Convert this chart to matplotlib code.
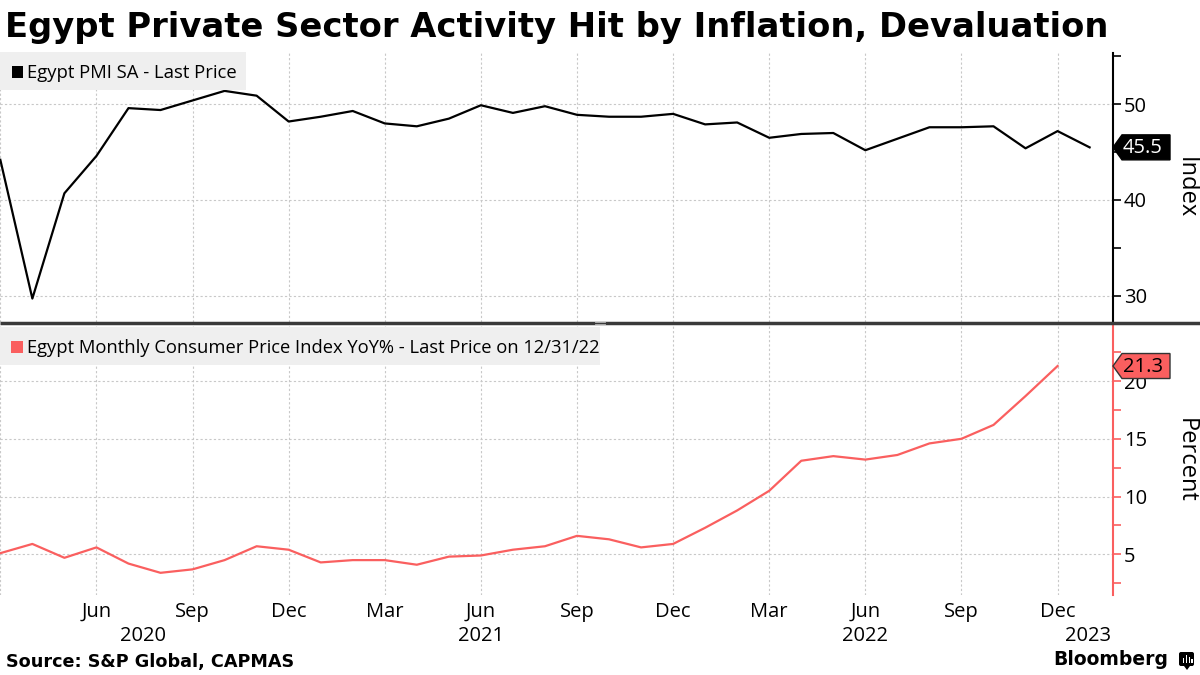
import matplotlib
matplotlib.use("Agg")
import matplotlib.pyplot as plt
import numpy as np
import pandas as pd
from matplotlib.patches import Rectangle, Polygon, FancyBboxPatch
from matplotlib.ticker import FixedLocator

# data (monthly, Mar 2020 onward)
pmi_months = pd.period_range("2020-03", "2023-01", freq="M")
pmi = [44.2, 29.7, 40.7, 44.6, 49.6, 49.4, 50.4, 51.4, 50.9, 48.2,
       48.7, 49.3, 48.0, 47.7, 48.5, 49.9, 49.1, 49.8, 48.9, 48.7,
       48.7, 49.0, 47.9, 48.1, 46.5, 46.9, 47.0, 45.2, 46.4, 47.6,
       47.6, 47.7, 45.4, 47.2, 45.5]
cpi_months = pd.period_range("2020-03", "2022-12", freq="M")
cpi = [5.1, 5.9, 4.7, 5.6, 4.2, 3.4, 3.7, 4.5, 5.7, 5.4,
       4.3, 4.5, 4.5, 4.1, 4.8, 4.9, 5.4, 5.7, 6.6, 6.3,
       5.6, 5.9, 7.3, 8.8, 10.5, 13.1, 13.5, 13.2, 13.6, 14.6,
       15.0, 16.2, 18.7, 21.3]
tick_idx = list(range(3, 34, 3))
tick_labels = ["Jun", "Sep", "Dec", "Mar", "Jun", "Sep", "Dec", "Mar", "Jun", "Sep", "Dec"]
years = ["2020", "2021", "2022", "2023"]
year_pos = [4.46, 15.0, 27.0, 33.95]

BLACK = "#000000"; RED = "#fa5f5f"; GRID = "#c8c8c8"; LEG = "#efefef"
TF = "Open Sans"

W, H = 1200, 675
fig = plt.figure(figsize=(12, 6.75), dpi=100)
fig.patch.set_facecolor("white")

def px_axes(left, top, right, bottom):
    return fig.add_axes([left / W, 1 - bottom / H, (right - left) / W, (bottom - top) / H])

x_pmi = np.arange(len(pmi))
x_cpi = np.arange(len(cpi))
XL = (-0.01, 34.73)

ax1 = px_axes(0, 53, 1113, 322)
ax2 = px_axes(0, 325, 1113, 595)

for ax, col in ((ax1, BLACK), (ax2, RED)):
    ax.set_facecolor("none")
    ax.set_xlim(*XL)
    for s in ("top", "left", "bottom"):
        ax.spines[s].set_visible(False)
    ax.spines["right"].set_color(col)
    ax.spines["right"].set_linewidth(1.5)
    ax.yaxis.tick_right()
    ax.tick_params(axis="y", which="both", direction="out", length=6, width=1.2,
                   color=col, labelsize=14.5, pad=2, labelcolor=BLACK)
    ax.set_xticks([0] + tick_idx)
    ax.grid(True, which="major", color=GRID, linestyle=(0, (2, 2)), linewidth=0.8)
    ax.set_axisbelow(True)

ax1.plot(x_pmi, pmi, color=BLACK, lw=1.6, zorder=3)
ax1.set_ylim(27.25, 55.36)
ax1.set_yticks([30, 40, 50])
ax1.yaxis.set_minor_locator(FixedLocator([35, 45, 55]))
ax1.tick_params(axis="x", length=0, labelbottom=False)

ax2.plot(x_cpi, cpi, color=RED, lw=1.6, zorder=3)
ax2.set_ylim(1.48, 24.85)
ax2.set_yticks([5, 10, 15, 20])
ax2.yaxis.set_minor_locator(FixedLocator([2.5, 7.5, 12.5, 17.5, 22.5]))
ax2.set_xticklabels([""] + tick_labels, fontsize=14.5, family=TF)
ax2.tick_params(axis="x", length=0, pad=5)
for xp, yr in zip(year_pos, years):
    ax2.text(xp, -0.17, yr, transform=ax2.get_xaxis_transform(), ha="center",
             va="baseline", fontsize=14.5, family=TF)

for ax in (ax1, ax2):
    for lab in ax.get_yticklabels():
        lab.set_family(TF)

ax1.text(1.065, 0.5, "Index", transform=ax1.transAxes, rotation=-90, ha="center",
         va="center", fontsize=17, family=TF)
ax2.text(1.065, 0.5, "Percent", transform=ax2.transAxes, rotation=-90, ha="center",
         va="center", fontsize=17, family=TF)

# overlay in pixel coordinates
ov = fig.add_axes([0, 0, 1, 1], zorder=10)
ov.set_xlim(0, W); ov.set_ylim(H, 0); ov.axis("off")

def ypx(ax, v):
    return H - ax.transData.transform((0, v))[1]

def tag(ax, v, text, fill, edge, tcol):
    y = ypx(ax, v)
    x0 = 1113; h = 12.5
    pts = [(x0, y), (x0 + 9, y - h), (1170, y - h), (1170, y + h), (x0 + 9, y + h)]
    ov.add_patch(Polygon(pts, closed=True, facecolor=fill, edgecolor=edge, lw=1))
    ov.text(1143, y + 1, text, ha="center", va="center", fontsize=14.5, family=TF, color=tcol)

tag(ax1, pmi[-1], f"{pmi[-1]:.1f}", BLACK, BLACK, "white")
tag(ax2, cpi[-1], f"{cpi[-1]:.1f}", RED, "#333333", BLACK)

# legends
ov.add_patch(Rectangle((0, 52), 246, 38, facecolor=LEG, edgecolor="none"))
ov.add_patch(Rectangle((11.5, 66), 11.5, 11.5, facecolor=BLACK, edgecolor="none"))
ov.text(27, 78.3, "Egypt PMI SA - Last Price", fontsize=13.3, family=TF, va="baseline")
ov.add_patch(Rectangle((0, 327), 600, 38, facecolor=LEG, edgecolor="none"))
ov.add_patch(Rectangle((11, 341), 11.5, 11.5, facecolor=RED, edgecolor="none"))
ov.text(27, 353.3, "Egypt Monthly Consumer Price Index YoY% - Last Price on 12/31/22",
        fontsize=13.2, family=TF, va="baseline")

# divider
ov.plot([0, W], [322.5, 322.5], color="#3a3a3a", lw=2.5, solid_capstyle="butt")
ov.plot([595, 605], [321.5, 321.5], color="#bbbbbb", lw=0.6)
ov.plot([595, 605], [323.5, 323.5], color="#bbbbbb", lw=0.6)

# title & footer
ov.text(5, 36.7, "Egypt Private Sector Activity Hit by Inflation, Devaluation",
        fontsize=24.3, fontweight="bold", va="baseline", family="DejaVu Sans")
ov.text(6, 667, "Source: S&P Global, CAPMAS", fontsize=12.7, fontweight="bold",
        va="baseline", family="DejaVu Sans")
ov.text(1168, 665, "Bloomberg", fontsize=13.5, fontweight="bold", ha="right",
        va="baseline", family="DejaVu Sans")
ov.add_patch(FancyBboxPatch((1179, 652), 15, 14, boxstyle="round,pad=0,rounding_size=2",
                            facecolor=BLACK, edgecolor="none"))
ov.add_patch(Polygon([(1184, 666), (1187, 670), (1190, 666)], facecolor=BLACK, edgecolor="none"))
for bx, bh in ((1182.5, 5), (1185.5, 8), (1188.5, 6), (1191, 4)):
    ov.add_patch(Rectangle((bx, 663 - bh), 1.6, bh, facecolor="white", edgecolor="none"))

fig.savefig("out.png", dpi=100, facecolor="white")
